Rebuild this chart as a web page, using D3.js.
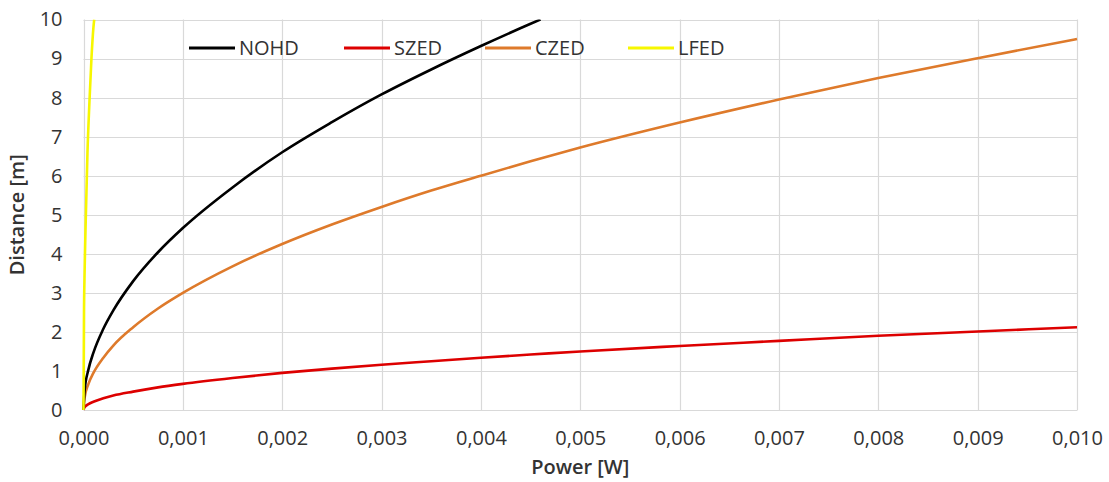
<!DOCTYPE html>
<html>
<head>
<meta charset="utf-8">
<script src="https://cdn.jsdelivr.net/npm/d3@7"></script>
<style>
  html, body { margin: 0; padding: 0; background: #fff; }
  svg { display: block; }
  text { font-family: "Open Sans", "Noto Sans", sans-serif; }
</style>
</head>
<body>
<svg id="chart" width="1109" height="482"></svg>
<script>
// ---- data ----
const xTicks = [0, 0.001, 0.002, 0.003, 0.004, 0.005, 0.006, 0.007, 0.008, 0.009, 0.010];
const yTicks = [0, 1, 2, 3, 4, 5, 6, 7, 8, 9, 10];

const powerNOHD = [0, 0.00001, 0.00005, 0.0001, 0.0002, 0.0003, 0.0005, 0.00075, 0.001, 0.0015, 0.002, 0.0025, 0.003, 0.0035, 0.004, 0.0045, 0.0046];
const distNOHD  = [0, 0.47, 1.04, 1.47, 2.08, 2.55, 3.30, 4.04, 4.66, 5.70, 6.60, 7.37, 8.08, 8.72, 9.32, 9.89, 10.0];

const powerZED = [0, 0.00001, 0.00005, 0.0001, 0.0002, 0.0003, 0.0005, 0.00075, 0.001, 0.0015, 0.002, 0.0025, 0.003, 0.0035, 0.004, 0.0045, 0.005, 0.006, 0.007, 0.008, 0.009, 0.010];
const distSZED = [0, 0.07, 0.15, 0.21, 0.30, 0.37, 0.47, 0.58, 0.67, 0.82, 0.95, 1.06, 1.16, 1.25, 1.34, 1.42, 1.50, 1.64, 1.77, 1.90, 2.01, 2.12];
const distCZED = [0, 0.30, 0.67, 0.95, 1.34, 1.65, 2.12, 2.60, 3.00, 3.68, 4.25, 4.75, 5.20, 5.62, 6.00, 6.37, 6.72, 7.36, 7.95, 8.50, 9.01, 9.50];

const powerLFED = [0, 0.000005, 0.00001, 0.00002, 0.00004, 0.00006, 0.00008, 0.0001, 0.000108];
const distLFED  = [0, 2.5, 3.4, 4.6, 6.6, 7.9, 9.0, 9.8, 10.0];

const seriesNames  = ["NOHD", "SZED", "CZED", "LFED"];
const seriesColors = ["#000000", "#dd0000", "#de7a2b", "#f7f700"];

// ---- layout ----
const svg = d3.select("#chart");
const margin = { left: 83.5, right: 1077, top: 19.5, bottom: 410 };

const x = d3.scaleLinear().domain([0, 0.010]).range([margin.left, margin.right]);
const y = d3.scaleLinear().domain([0, 10]).range([margin.bottom, margin.top]);

const fmt = d => d3.format(".3f")(d).replace(".", ",");
const gridColor = "#d9d9d9";
const textColor = "#333333";

// gridlines
svg.append("g").selectAll("line").data(yTicks).join("line")
  .attr("x1", margin.left).attr("x2", margin.right)
  .attr("y1", d => Math.round(y(d)) + 0.5).attr("y2", d => Math.round(y(d)) + 0.5)
  .attr("stroke", gridColor).attr("stroke-width", 1.2);
svg.append("g").selectAll("line").data(xTicks).join("line")
  .attr("y1", margin.top).attr("y2", margin.bottom)
  .attr("x1", d => Math.round(x(d)) + 0.5).attr("x2", d => Math.round(x(d)) + 0.5)
  .attr("stroke", gridColor).attr("stroke-width", 1.2);

// axes (labels only, via d3 axes)
const xAxis = svg.append("g").attr("transform", `translate(0,${margin.bottom})`)
  .call(d3.axisBottom(x).tickValues(xTicks).tickFormat(fmt).tickSize(0).tickPadding(21));
xAxis.select(".domain").attr("stroke", gridColor);
xAxis.selectAll("text").attr("font-size", 20).attr("fill", textColor)
  .style("font-family", '"Open Sans", sans-serif');

const yAxis = svg.append("g").attr("transform", `translate(${margin.left},0)`)
  .call(d3.axisLeft(y).tickValues(yTicks).tickFormat(d3.format("d")).tickSize(0).tickPadding(21));
yAxis.select(".domain").remove();
yAxis.selectAll("text").attr("font-size", 20).attr("fill", textColor)
  .style("font-family", '"Open Sans", sans-serif');

// axis titles
svg.append("text").attr("x", (margin.left + margin.right) / 2).attr("y", 474)
  .attr("text-anchor", "middle").attr("font-size", 20).attr("font-weight", 600)
  .attr("fill", textColor).text("Power [W]");
svg.append("text").attr("transform", `translate(24,${(margin.top + margin.bottom) / 2}) rotate(-90)`)
  .attr("text-anchor", "middle").attr("font-size", 20).attr("font-weight", 600)
  .attr("fill", textColor).text("Distance [m]");

// clip
svg.append("clipPath").attr("id", "clip").append("rect")
  .attr("x", margin.left - 2).attr("y", margin.top)
  .attr("width", margin.right - margin.left + 4).attr("height", margin.bottom - margin.top + 2);

const line = d3.line().x(d => x(d[0])).y(d => y(d[1])).curve(d3.curveMonotoneX);
const series = [
  { name: "SZED", p: powerZED, d: distSZED },
  { name: "CZED", p: powerZED, d: distCZED },
  { name: "NOHD", p: powerNOHD, d: distNOHD },
  { name: "LFED", p: powerLFED, d: distLFED }
];
const g = svg.append("g").attr("clip-path", "url(#clip)");
series.forEach(s => {
  const pts = s.p.map((v, i) => [v, s.d[i]]);
  g.append("path").datum(pts).attr("d", line)
    .attr("fill", "none")
    .attr("stroke", seriesColors[seriesNames.indexOf(s.name)])
    .attr("stroke-width", 2.6);
});

// legend
const legendX = [189, 344, 485, 628];
const legendY = 48;
const lg = svg.append("g");
seriesNames.forEach((n, i) => {
  lg.append("line").attr("x1", legendX[i]).attr("x2", legendX[i] + 46)
    .attr("y1", legendY).attr("y2", legendY)
    .attr("stroke", seriesColors[i]).attr("stroke-width", 3);
  lg.append("text").attr("x", legendX[i] + 50).attr("y", legendY)
    .attr("dy", "0.35em").attr("font-size", 20).attr("fill", textColor).text(n);
});
</script>
</body>
</html>
